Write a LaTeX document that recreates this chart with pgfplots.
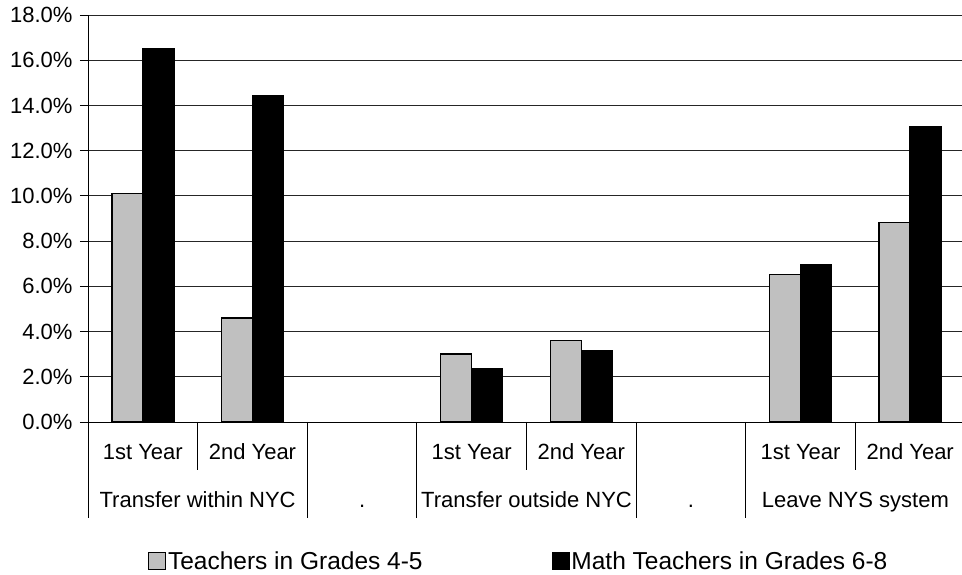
\documentclass[border=0pt]{standalone}
\usepackage{pgfplots}
\pgfplotsset{compat=1.18}
\usepackage{fontspec}
\setmainfont{Liberation Sans}
\definecolor{barGrey}{HTML}{C0C0C0}
\begin{document}
\begin{tikzpicture}[x=1pt,y=1pt]
\useasboundingbox (0,0) rectangle (962,575);
\begin{axis}[
  at={(88pt,153pt)}, anchor=south west,
  scale only axis, width=877pt, height=407pt,
  xmin=0, xmax=8, ymin=0, ymax=18,
  enlargelimits=false,
  ybar=0pt, bar width=31pt,
  ytick={0,2,4,6,8,10,12,14,16,18},
  /pgf/number format/assume math mode=true,
  yticklabel={\pgfmathprintnumber[fixed,fixed zerofill,precision=1]{\tick}\%},
  yticklabel style={xshift=-4pt},
  ymajorgrids, grid style={black!85, line width=0.8pt},
  xtick={0.5,1.5,3.5,4.5,6.5,7.5},
  xticklabels={1st Year,2nd Year,1st Year,2nd Year,1st Year,2nd Year},
  x tick style={draw=none},
  y tick style={black, line width=0.8pt},
  tick align=outside, major tick length=8pt,
  axis x line*=bottom, axis y line*=left,
  axis line style={black, line width=0.8pt},
  tick label style={font=\fontsize{22}{25}\selectfont},
  xticklabel style={anchor=base, yshift=-30pt},
  legend style={at={(0.065,-0.3415)}, anchor=west, draw=none, fill=none,
    font=\fontsize{24.5}{28}\selectfont,
    /tikz/every even column/.append style={column sep=127pt}},
  legend columns=2,
  legend cell align=left,
  clip=false,
]
\addplot[fill=barGrey, draw=black, line width=1.5pt,
  legend image code/.code={\draw[fill=barGrey, draw=black, line width=0.8pt] (0pt,-8.5pt) rectangle (17pt,8.5pt);}]
  coordinates {(0.5,10.1) (1.5,4.59) (3.5,3.01) (4.5,3.61) (6.5,6.53) (7.5,8.83)};
\addlegendentry{Teachers in Grades 4-5}
\addplot[fill=black, draw=black, line width=1.5pt,
  legend image code/.code={\draw[fill=black, draw=black, line width=0.8pt] (0pt,-8.5pt) rectangle (17pt,8.5pt);}]
  coordinates {(0.5,16.5) (1.5,14.45) (3.5,2.34) (4.5,3.14) (6.5,6.95) (7.5,13.05)};
\addlegendentry{Math Teachers in Grades 6-8}
% category separators
\pgfplotsinvokeforeach{0,2,3,5,6}{\draw[black, line width=0.8pt] (axis cs:#1,0) -- ++(0,-96pt);}
\pgfplotsinvokeforeach{1,4,7}{\draw[black, line width=0.8pt] (axis cs:#1,0) -- ++(0,-48pt);}
% group labels
\node[anchor=base, font=\fontsize{22}{25}\selectfont] at ([yshift=-86pt]axis cs:1,0) {Transfer within NYC};
\node[anchor=base, font=\fontsize{22}{25}\selectfont] at ([yshift=-86pt]axis cs:2.5,0) {.};
\node[anchor=base, font=\fontsize{22}{25}\selectfont] at ([yshift=-86pt]axis cs:4,0) {Transfer outside NYC};
\node[anchor=base, font=\fontsize{22}{25}\selectfont] at ([yshift=-86pt]axis cs:5.5,0) {.};
\node[anchor=base, font=\fontsize{22}{25}\selectfont] at ([yshift=-86pt]axis cs:7,0) {Leave NYS system};
\end{axis}
\end{tikzpicture}
\end{document}
